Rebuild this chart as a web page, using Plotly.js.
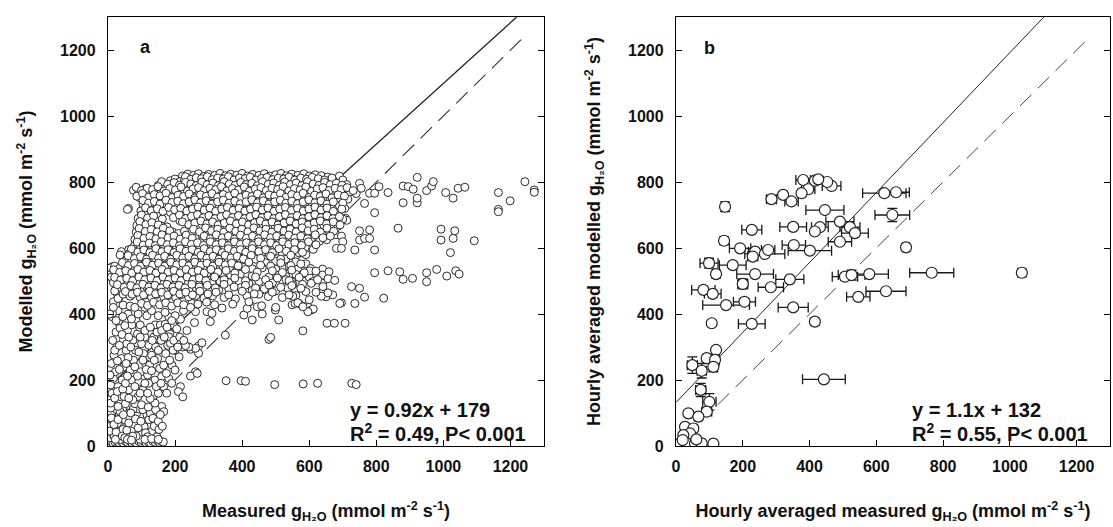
<!DOCTYPE html>
<html>
<head>
<meta charset="utf-8">
<script src="https://cdn.plot.ly/plotly-3.0.1.min.js"></script>
<style>html,body{margin:0;padding:0;background:#fff;}#chart{width:1113px;height:527px;}</style>
</head>
<body>
<div id="chart"></div>
<script>
// ---------- Panel a: individual measurements [measured, modelled] ----------
const aBottomRow = [[3,10],[9,14],[15,9],[21,12],[27,15],[33,10],[40,13],[46,9],[52,14],[58,11],[65,15],[71,10],[78,13],[85,9],[92,14],[99,11],[106,15],[113,10],[120,13],[127,9],[134,14],[141,11],[148,15],[154,10],[160,13],[165,12]];
const aLowCluster = [[5,25],[12,40],[18,30],[25,55],[30,22],[36,45],[42,70],[48,35],[55,60],[60,28],[14,75],[22,90],[32,100],[40,85],[50,95],[58,110],[20,120],[35,130],[45,115],[8,60],[28,68],[44,50],[52,78],[64,88],[70,48],[78,66],[86,100],[92,112],[100,35],[108,58],[116,95],[122,80],[130,44],[138,60],[146,28],[152,50],[96,20],[84,30],[160,120],[166,104],[64,122],[75,112],[10,100],[26,110],[38,20],[16,50],
[4,45],[10,85],[18,65],[24,42],[30,80],[36,105],[42,30],[46,95],[50,25],[56,48],[62,70],[68,100],[74,30],[82,82],[90,55],[98,75],[104,110],[112,40],[118,28],[126,100],[134,84],[142,110],[150,75],[156,95],[162,60],[8,115],[30,120],[52,128],[80,128],[100,125],[120,118],[140,130],[22,20],[58,20],[70,18],[110,20],[130,22],[150,20]];
const aLeftCluster = [[4,140],[12,160],[8,185],[16,205],[22,225],[10,250],[18,275],[26,300],[14,320],[24,345],[6,215],[30,180],[36,150],[42,200],[48,240],[40,265],[54,290],[46,320],[58,350],[34,370],[62,170],[70,200],[66,230],[76,260],[82,290],[74,320],[88,340],[94,360],[84,380],[100,310],[106,280],[112,250],[98,225],[92,195],[118,215],[124,245],[130,275],[122,305],[136,330],[142,300],[148,265],[154,235],[140,200],[160,210],[166,245],[172,280],[158,320],[178,305],[184,340],[104,170],[126,144],[121,190],[191,245],[181,205],[186,311],[181,331],[12,392],[36,357],[71,367],[96,367],[141,367],[156,367],[171,369],[194,367],[181,392],[216,384],[258,374],[261,407],[250,432],[295,407],[305,377],[310,402],[350,336],[405,397],[430,382],[460,400],[445,422],[415,417],[480,323],[509,382],[499,412],[549,428],[569,432],[246,293],[270,303],[280,313],[270,281],[261,296],[223,300],[241,300],[231,304],[261,225],[246,212],[266,220],[216,180],[210,165],[223,149],[110,330],[60,400],[30,410],[116,395],[200,395],[225,410],[235,350],[200,290],[205,355],[56,310],[90,150],[150,160],[166,180],[13,402],[18,513],[13,543],[40,589],[61,720],[34,473],[45,463],[29,447],[36,579],[22,533],[15,503],[27,463],[32,448],[16,437],[62,595],
[8,130],[20,145],[28,165],[44,172],[52,190],[58,212],[34,232],[28,258],[20,290],[34,305],[42,338],[50,365],[62,330],[68,300],[60,268],[54,250],[80,240],[88,212],[80,180],[96,160],[110,190],[114,232],[104,260],[92,285],[96,330],[110,350],[126,360],[132,320],[146,345],[160,350],[168,330],[150,290],[138,260],[130,228],[144,180],[158,190],[174,220],[184,260],[194,290],[176,360],[190,380],[196,320],[208,300],[214,330],[226,320],[212,270],[200,230],[190,190],[175,160],[118,160],[74,140],[48,150],[62,145],[24,380],[44,392],[70,385],[90,400],[130,410],[150,395],[170,405],[110,420],[16,420]];
const aMainCloud = [
[222,818],[238,824],[255,820],[270,825],[286,817],[300,823],[318,820],[334,826],[350,819],[366,824],[384,821],[400,826],[416,818],[432,823],[450,820],[466,825],[482,818],[500,822],[516,826],[532,819],[548,824],[566,820],[584,825],[600,818],[618,822],[636,819],[655,815],[690,818],
[186,804],[200,809],[214,801],[228,807],[244,803],[260,810],[276,802],[292,808],[308,800],[324,806],[340,810],[356,802],[372,807],[390,801],[406,809],[422,803],[438,806],[456,800],[472,808],[488,802],[506,806],[522,810],[540,801],[556,807],[572,803],[590,809],[606,800],[622,806],[640,802],[660,804],[680,798],[700,806],
[112,780],[150,790],[168,787],[190,793],[206,786],[222,791],[238,785],[255,794],[272,788],[288,792],[304,785],[320,790],[338,794],[354,787],[370,791],[388,785],[404,793],[420,788],[436,792],[452,786],[470,790],[486,794],[502,787],[518,791],[536,785],[552,790],[570,794],[586,787],[604,791],[620,786],[638,793],[654,788],[672,790],[690,784],[712,792],
[76,775],[92,770],[108,776],[125,768],[140,773],[158,766],[176,772],[192,768],[210,775],[228,770],[246,767],[262,774],[278,769],[296,776],[312,768],[330,773],[346,767],[362,775],[380,770],[398,766],[414,773],[430,769],[448,776],[464,768],[480,772],[498,766],[514,775],[530,770],[548,767],[564,774],[582,769],[598,776],[616,768],[632,772],[650,766],[668,774],[686,769],[704,762],[722,770],[740,765],
[95,752],[112,745],[130,755],[146,748],[164,752],[182,745],[200,756],[216,749],[234,753],[250,746],[268,755],[284,748],[302,752],[318,745],[336,756],[352,749],[370,753],[386,746],[404,755],[420,748],[438,752],[454,745],[472,756],[488,749],[506,753],[522,746],[540,755],[556,748],[574,752],[590,745],[608,756],[626,749],[644,750],[662,745],[690,750],[715,748],
[58,717],[104,733],[120,726],[138,736],[156,729],[172,734],[190,724],[208,732],[226,727],[244,737],[260,728],[278,733],[296,724],[312,735],[330,729],[348,733],[364,725],[382,736],[400,728],[416,733],[434,724],[452,735],[468,729],[486,734],[504,725],[520,736],[538,728],[556,733],[574,724],[590,735],[608,729],[626,733],[644,725],[664,732],[690,728],[706,720],
[98,712],[116,705],[134,714],[150,703],[186,708],[204,713],[222,702],[240,710],[258,706],[276,714],[292,703],[310,711],[328,706],[346,713],[362,702],[380,710],[398,705],[416,714],[432,703],[450,711],[468,706],[486,713],[502,702],[520,710],[538,705],[556,714],[572,703],[590,711],[608,706],[626,713],[644,702],[662,710],[682,707],[708,690],[712,684],
[90,690],[108,684],[126,693],[144,681],[162,688],[214,683],[232,692],[250,680],[268,689],[286,685],[304,693],[320,681],[338,689],[356,684],[374,692],[392,681],[410,688],[428,685],[446,693],[462,681],[480,689],[498,684],[516,692],[534,681],[552,688],[570,685],[588,693],[606,681],[624,689],[642,684],[660,692],[680,682],[700,688],
[86,668],[104,662],[122,671],[140,660],[158,667],[176,664],[246,670],[264,661],[282,668],[300,664],[318,672],[336,660],[354,667],[372,663],[390,671],[408,660],[426,668],[444,664],[462,671],[480,660],[498,667],[516,663],[534,671],[552,660],[570,668],[588,664],[606,671],[624,660],[644,668],[664,662],[686,666],
[84,648],[102,641],[120,650],[138,643],[156,647],[174,640],[192,649],[210,644],[228,651],[278,642],[296,648],[314,641],[332,650],[350,644],[368,648],[386,641],[404,650],[422,643],[440,647],[458,640],[476,649],[494,644],[512,651],[530,640],[548,648],[566,643],[584,650],[602,641],[620,647],[640,643],[660,650],[680,640],
[80,626],[98,620],[116,630],[134,622],[152,628],[170,620],[188,631],[206,624],[224,628],[242,621],[260,630],[296,624],[314,628],[332,621],[350,630],[368,623],[386,627],[404,620],[422,631],[440,624],[458,628],[476,621],[494,630],[512,623],[530,627],[548,620],[566,630],[584,624],[606,628],[630,620],[652,625],
[78,606],[96,600],[114,610],[132,602],[150,607],[168,599],[186,610],[204,603],[222,607],[240,600],[258,609],[276,602],[294,606],[312,599],[330,610],[348,603],[366,607],[402,600],[420,609],[438,602],[456,606],[474,599],[492,610],[510,603],[528,607],[546,600],[566,609],[588,602],[612,596],
[62,582],[80,590],[98,582],[116,587],[134,579],[152,590],[170,583],[188,587],[206,580],[224,589],[242,582],[260,586],[278,579],[296,590],[314,583],[332,587],[350,580],[368,589],[386,582],[420,586],[440,579],[460,588],[480,582],[500,590],[520,584],[544,578],[570,585],[590,580],
[50,560],[70,567],[88,560],[106,569],[124,561],[142,566],[160,559],[178,570],[196,562],[214,567],[232,560],[250,569],[268,562],[286,566],[304,559],[322,570],[340,562],[358,567],[376,560],[394,568],[414,562],[440,566],[470,555],[500,560],[530,566],[560,558],[590,552],
[8,540],[20,545],[34,538],[52,546],[70,540],[88,547],[106,539],[124,546],[142,540],[160,549],[178,541],[196,546],[214,539],[232,548],[250,541],[268,545],[286,538],[304,547],[322,540],[342,546],[362,539],[382,548],[404,541],[430,537],[460,540],[500,536],[540,545],[566,536],[604,538],[640,536],
[10,512],[26,520],[44,526],[62,518],[80,525],[98,517],[116,526],[134,519],[152,524],[170,516],[188,525],[206,518],[224,523],[242,516],[260,525],[278,518],[296,524],[316,516],[340,523],[366,517],[394,520],[430,515],[480,512],[510,518],[530,514],[560,520],[600,512],[640,518],
[16,495],[36,500],[56,493],[74,501],[92,494],[110,502],[128,495],[146,500],[164,493],[182,502],[200,495],[218,500],[236,494],[254,503],[272,496],[290,500],[310,493],[334,499],[360,495],[390,500],[420,492],[450,498],[490,494],[520,502],[548,498],[580,490],[610,498],[640,493],
[20,470],[40,480],[60,474],[80,478],[98,471],[116,482],[134,474],[152,479],[170,472],[188,481],[206,474],[224,478],[242,471],[262,480],[282,474],[304,478],[330,472],[360,476],[396,480],[430,472],[466,476],[500,470],[536,478],[560,472],[590,468],[640,470],
[30,447],[45,460],[66,454],[96,450],[112,458],[130,451],[148,460],[166,452],[184,457],[202,450],[220,459],[240,452],[262,456],[286,448],[312,455],[346,450],[380,446],[414,455],[450,460],[478,453],[520,450],[560,456],[600,443],[650,452],[670,458],
[5,400],[45,427],[66,424],[80,420],[100,432],[118,426],[136,436],[154,428],[172,434],[190,424],[208,434],[226,428],[246,420],[268,430],[294,436],[318,428],[340,418],[372,430],[420,437],[458,425],[500,420],[558,432],[580,424],[598,420],[606,412],[612,415],
[659,528],[656,507],[676,502],[641,483],[606,493],[601,531],[581,521],[636,454],[656,464],[551,454],[566,434],[531,504],[551,489],[596,407],[581,422]
];
const aMainCloudFill = [
[231,816],[247,808],[263,813],[279,810],[296,816],[311,807],[327,812],[344,809],[359,816],[376,806],[392,812],[409,810],[424,815],[441,806],[458,811],[474,814],[491,807],[508,812],[524,809],[540,815],[557,806],[575,812],[592,808],[609,814],[627,810],[646,806],[668,812],
[160,801],[178,793],[197,798],[213,790],[231,799],[247,794],[263,789],[280,800],[296,792],[313,797],[329,789],[346,801],[362,794],[379,790],[396,799],[412,792],[429,796],[445,789],[461,801],[478,793],[494,797],[511,790],[527,800],[544,792],[561,797],[578,789],[595,801],[612,794],[629,790],[646,799],[663,792],[681,796],[698,790],
[84,784],[100,774],[117,781],[133,777],[149,786],[167,773],[184,780],[201,776],[218,785],[237,772],[254,779],[270,783],[287,774],[304,781],[321,777],[338,786],[354,773],[371,780],[389,776],[406,785],[422,772],[439,779],[456,783],[472,774],[489,781],[506,777],[522,786],[539,773],[556,780],[573,776],[590,785],[607,772],[624,779],[641,783],[659,774],[677,781],[695,777],[713,783],[731,774],
[86,757],[103,765],[121,754],[138,762],[155,758],[173,766],[191,753],[209,760],[225,756],[242,764],[259,752],[276,761],[293,757],[310,765],[327,754],[344,762],[361,758],[378,766],[395,753],[412,760],[429,756],[446,764],[463,752],[480,761],[497,757],[514,765],[531,754],[548,762],[565,758],[582,766],[599,753],[616,760],[633,756],[650,764],[668,752],[686,761],[705,757],
[104,744],[121,736],[138,741],[155,733],[173,745],[191,738],[208,742],[225,734],[242,740],[259,746],[276,737],[293,743],[310,733],[327,740],[344,745],[361,736],[378,742],[395,734],[412,740],[429,746],[446,737],[463,743],[480,733],[497,740],[514,745],[531,736],[548,742],[565,734],[582,740],[599,746],[617,737],[635,743],[653,733],[672,740],[700,736],
[112,722],[129,713],[147,719],[164,711],[181,723],[199,716],[217,720],[235,712],[252,718],[269,724],[287,715],[304,721],[321,711],[339,718],[356,723],[373,714],[391,720],[408,712],[425,718],[443,724],[460,715],[477,721],[495,711],[512,718],[529,723],[547,714],[565,720],[582,712],[599,718],[617,724],[635,715],[653,721],[672,711],[697,718],
[100,700],[118,691],[136,697],[195,692],[213,700],[231,689],[249,696],[267,701],[284,692],[301,698],[319,689],[337,695],[354,701],[371,692],[389,698],[407,689],[424,695],[441,701],[459,692],[477,698],[494,689],[511,695],[529,701],[547,692],[564,698],[581,689],[599,695],[617,701],[635,692],[653,698],[671,689],[690,695],
[95,680],[113,671],[131,677],[150,670],[222,679],[241,671],[259,676],[277,682],[295,673],[312,679],[329,670],[347,676],[365,682],[383,673],[401,679],[419,670],[437,676],[454,682],[471,673],[489,679],[507,670],[525,676],[543,682],[561,673],[579,679],[597,670],[615,676],[633,682],[652,673],[672,679],[692,670],
[93,659],[111,650],[129,656],[147,649],[165,660],[184,652],[255,657],[273,649],[291,661],[309,652],[327,657],[345,648],[363,660],[381,651],[399,657],[417,649],[435,661],[453,652],[471,657],[489,648],[507,660],[525,651],[543,657],[561,649],[579,661],[597,652],[615,657],[633,648],[653,660],[673,651],
[89,638],[107,629],[125,635],[143,628],[161,640],[179,631],[197,636],[215,627],[233,639],[251,630],[287,636],[305,628],[323,640],[341,631],[359,636],[377,627],[395,639],[413,630],[431,636],[449,628],[467,640],[485,631],[503,636],[521,627],[539,639],[557,630],[575,636],[595,628],[618,640],[641,631],[663,636],
[87,618],[105,609],[123,615],[141,607],[159,619],[177,610],[195,616],[213,607],[231,619],[249,611],[267,616],[285,608],[305,619],[323,610],[341,616],[359,607],[377,619],[395,611],[413,616],[431,608],[449,619],[467,610],[485,616],[503,607],[521,619],[539,611],[557,616],[577,608],[598,619],[620,610],
[70,597],[89,588],[107,594],[125,586],[143,598],[161,589],[179,595],[197,586],[215,598],[233,590],[251,595],[269,587],[287,598],[305,589],[323,595],[341,586],[359,598],[377,590],[395,595],[411,587],[430,598],[450,589],[470,595],[490,586],[510,598],[532,590],[556,595],[580,587],
[60,577],[79,568],[97,574],[115,566],[133,578],[151,569],[169,575],[187,566],[205,578],[223,570],[241,575],[259,567],[277,578],[295,569],[313,575],[331,566],[349,578],[367,570],[385,575],[404,567],[427,578],[455,569],[485,575],[515,566],[545,578],
[43,556],[61,547],[79,553],[97,545],[115,557],[133,548],[151,554],[169,545],[187,557],[205,549],[223,554],[241,546],[259,557],[277,548],[295,554],[313,545],[331,557],[350,549],[369,554],[388,546],[420,557],[455,548],[485,545],[515,555],[545,547],[575,552],
[17,534],[35,526],[53,531],[71,524],[89,535],[107,527],[125,532],[143,524],[161,535],[179,527],[197,532],[215,524],[233,535],[251,527],[269,532],[287,524],[307,535],[328,527],[352,532],[378,524],[410,535],[445,527],[490,531],[520,526],[548,533],[585,525],[620,530],
[20,511],[38,503],[56,508],[74,501],[92,512],[110,504],[128,509],[146,501],[164,512],[182,504],[200,509],[218,501],[236,512],[254,504],[272,509],[292,501],[318,512],[346,504],[378,509],[410,501],[440,512],[470,504],[505,509],[540,501],[570,511],[625,504],
[28,489],[48,481],[68,486],[86,479],[104,490],[122,482],[140,487],[158,479],[176,490],[194,482],[212,487],[230,479],[250,490],[272,482],[296,487],[320,479],[346,490],[376,482],[410,487],[440,479],[480,488],[515,481],[548,486],[575,478],
[52,468],[72,460],[88,466],[106,458],[124,469],[142,461],[160,466],[178,458],[196,469],[214,461],[232,466],[252,458],[274,469],[298,461],[322,466],[360,458],[400,469],[436,461],[490,466],[540,458],[620,466]
];
const aRightSparse = [[750,796],[755,781],[765,735],[780,766],[795,766],[808,786],[795,707],[835,768],[880,788],[895,786],[910,778],[880,737],[922,737],[922,751],[922,814],[950,774],[965,788],[970,801],[1007,768],[1029,751],[1044,781],[1064,784],[1164,768],[1164,717],[1164,710],[1199,743],[1243,801],[1271,776],[1271,769],[865,660],[993,657],[993,624],[1034,652],[1029,629],[1092,622],[1021,586],[750,652],[780,655],[750,624],[765,629],[780,629],[795,594],[736,594],[696,636],[700,619],[681,599],[696,599],[795,525],[835,531],[870,528],[880,505],[908,508],[950,525],[950,498],[980,535],[1010,515],[1037,531],[1047,521],[726,483],[750,478],[765,451],[822,448],[696,434],[736,432],[691,432],[653,372],[675,372],[707,372],[581,349],[485,329],[352,198],[397,198],[410,196],[497,186],[582,188],[625,190],[727,190],[740,186]];

// ---------- Panel b: hourly averages [measured, modelled, measured SE, modelled SE] ----------
const hourlyPoints = [
[147,725,8,15],[286,748,15,0],[321,761,0,0],[346,741,20,8],[381,806,22,0],[416,804,25,0],[466,788,28,0],[396,778,20,0],[376,766,10,0],[453,800,0,0],[426,808,0,0],
[446,715,57,0],[491,680,42,0],[431,663,25,0],[521,663,30,0],[536,645,40,0],[491,619,35,0],[416,650,0,0],[351,664,40,10],[227,655,30,0],[144,622,8,12],
[192,599,32,0],[237,589,20,0],[230,574,15,0],[266,582,60,0],[276,594,20,0],[353,609,35,0],[401,592,65,0],[99,554,27,15],[120,521,10,12],[170,548,40,0],
[237,521,55,0],[200,491,15,15],[284,481,38,0],[341,505,42,0],[82,473,35,0],[110,461,25,10],[150,427,70,0],[205,437,33,10],[107,372,0,0],[227,370,40,0],
[351,420,45,0],[416,377,5,10],[506,513,38,10],[526,518,40,15],[579,521,57,0],[546,452,35,0],[629,469,60,0],[624,766,65,0],[659,769,40,0],[648,700,52,20],
[689,602,10,10],[766,525,66,0],[1036,525,12,8],[443,202,64,0],
[120,291,0,8],[92,266,10,10],[117,261,12,15],[112,240,12,15],[49,245,15,25],[77,228,14,22],[74,170,15,20],[100,134,20,25],[92,104,15,10],[37,99,8,8],
[67,89,10,10],[27,58,8,8],[52,53,10,10],[42,38,8,8],[22,33,6,6],[12,8,5,5],[32,8,6,6],[57,8,6,6],[77,8,6,6],[112,7,10,5],[20,18,5,5],[61,20,6,6]
];

// ---------- Regression and 1:1 lines ----------
const fitA = {slope: 0.92, intercept: 179};
const fitB = {slope: 1.06, intercept: 132};
const oneToOneA = [135, 1240];
const oneToOneB = [125, 1238];
const axisMax = 1300;
const tickValues = [0, 200, 400, 600, 800, 1000, 1200];

const equationA = ["y = 0.92x + 179", "R<sup>2</sup> = 0.49, P< 0.001"];
const equationB = ["y = 1.1x + 132", "R<sup>2</sup> = 0.55, P< 0.001"];

// ---------- build ----------
const ptsA = [].concat(aBottomRow, aLowCluster, aLeftCluster, aMainCloud, aMainCloudFill, aRightSparse);
function fitLine(f){ const xEnd = (axisMax - f.intercept)/f.slope; return {x:[0,xEnd], y:[f.intercept, f.intercept + f.slope*xEnd]}; }
const la = fitLine(fitA), lb = fitLine(fitB);

const FONT = 'Arial, "Liberation Sans", Helvetica, sans-serif';
const INK = '#111';

const traces = [
  {type:'scatter', mode:'lines', x:la.x, y:la.y, xaxis:'x', yaxis:'y', line:{color:'#222', width:1.3}, hoverinfo:'skip'},
  {type:'scatter', mode:'lines', x:oneToOneA, y:oneToOneA, xaxis:'x', yaxis:'y', line:{color:'#333', width:1.1, dash:'16px,9px'}, hoverinfo:'skip'},
  {type:'scatter', mode:'markers', x:ptsA.map(p=>p[0]), y:ptsA.map(p=>p[1]), xaxis:'x', yaxis:'y',
   marker:{symbol:'circle', size:8, color:'#fff', line:{color:'#2a2a2a', width:1}}},
  {type:'scatter', mode:'lines', x:lb.x, y:lb.y, xaxis:'x2', yaxis:'y2', line:{color:'#222', width:1}, hoverinfo:'skip'},
  {type:'scatter', mode:'lines', x:oneToOneB, y:oneToOneB, xaxis:'x2', yaxis:'y2', line:{color:'#444', width:1, dash:'16px,9px'}, hoverinfo:'skip'},
  {type:'scatter', mode:'markers', x:hourlyPoints.map(p=>p[0]), y:hourlyPoints.map(p=>p[1]), xaxis:'x2', yaxis:'y2',
   error_x:{type:'data', symmetric:true, array:hourlyPoints.map(p=>p[2]), color:'#1a1a1a', thickness:1.3, width:5},
   error_y:{type:'data', symmetric:true, array:hourlyPoints.map(p=>p[3]), color:'#1a1a1a', thickness:1.3, width:5},
   marker:{symbol:'circle', size:11, color:'#fff', line:{color:'#222', width:1.2}}}
];

const W = 1113, H = 527;
const yDom = [(H-446)/H, (H-17)/H];
function xax(dom, title){ return {domain:dom, range:[0,axisMax], tickvals:tickValues, ticks:'inside', ticklen:6, tickwidth:1, tickcolor:'#000',
  showline:true, linecolor:'#000', linewidth:1.2, mirror:true, showgrid:false, zeroline:false,
  tickfont:{family:FONT, size:16, color:INK, weight:'bold'}, ticklabelstandoff:6,
  title:{text:title, font:{family:FONT, size:18, color:INK, weight:'bold'}, standoff:30}}; }
function yax(title){ return {domain:yDom, range:[0,axisMax], tickvals:tickValues, ticks:'inside', ticklen:6, tickwidth:1, tickcolor:'#000',
  showline:true, linecolor:'#000', linewidth:1.2, mirror:'ticks', showgrid:false, zeroline:false,
  tickfont:{family:FONT, size:16, color:INK, weight:'bold'}, ticklabelstandoff:8,
  title:{text:title, font:{family:FONT, size:18, color:INK, weight:'bold'}, standoff:22}}; }

const layout = {
  width:W, height:H, margin:{l:0,r:0,t:0,b:0}, paper_bgcolor:'#fff', plot_bgcolor:'#fff', showlegend:false,
  xaxis: Object.assign(xax([108/W, 544/W], 'Measured g<sub>H₂O</sub> (mmol m<sup>-2</sup> s<sup>-1</sup>)'), {anchor:'y'}),
  yaxis: Object.assign(yax('Modelled g<sub>H₂O</sub> (mmol m<sup>-2</sup> s<sup>-1</sup>)'), {anchor:'x'}),
  xaxis2: Object.assign(xax([676/W, 1110/W], 'Hourly averaged measured g<sub>H₂O</sub> (mmol m<sup>-2</sup> s<sup>-1</sup>)'), {anchor:'y2'}),
  yaxis2: Object.assign(yax('Hourly averaged modelled g<sub>H₂O</sub> (mmol m<sup>-2</sup> s<sup>-1</sup>)'), {anchor:'x2'}),
  annotations: [
    {text:'a', x:111, y:1208, xref:'x', yref:'y', showarrow:false, font:{family:FONT, size:18, color:INK, weight:'bold'}},
    {text:'b', x:99, y:1205, xref:'x2', yref:'y2', showarrow:false, font:{family:FONT, size:18, color:INK, weight:'bold'}},
    {text:equationA[0], x:715, y:110, xref:'x', yref:'y', xanchor:'left', showarrow:false, font:{family:FONT, size:20, color:INK, weight:'bold'}},
    {text:equationA[1], x:715, y:40, xref:'x', yref:'y', xanchor:'left', showarrow:false, font:{family:FONT, size:20, color:INK, weight:'bold'}},
    {text:equationB[0], x:700, y:110, xref:'x2', yref:'y2', xanchor:'left', showarrow:false, font:{family:FONT, size:20, color:INK, weight:'bold'}},
    {text:equationB[1], x:700, y:40, xref:'x2', yref:'y2', xanchor:'left', showarrow:false, font:{family:FONT, size:20, color:INK, weight:'bold'}}
  ]
};

Plotly.newPlot('chart', traces, layout, {staticPlot:true, displayModeBar:false});
</script>
</body>
</html>
